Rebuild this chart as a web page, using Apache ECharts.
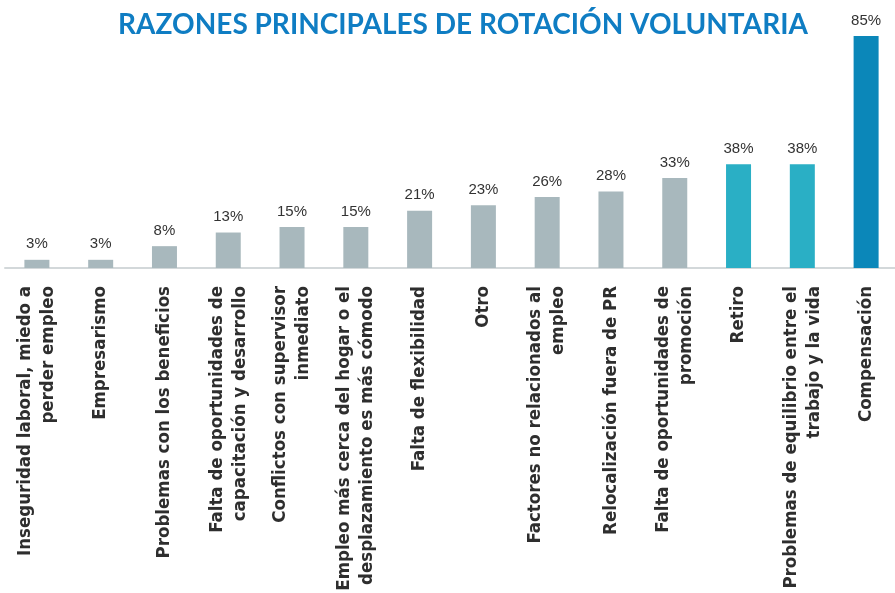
<!DOCTYPE html>
<html><head><meta charset="utf-8">
<script src="https://cdn.jsdelivr.net/npm/echarts@6/dist/echarts.min.js"></script>
<style>html,body{margin:0;padding:0;background:#fff}#c{width:895px;height:593px}</style>
</head><body><div id="c"></div>
<script>
const titleText = 'RAZONES PRINCIPALES DE ROTACIÓN VOLUNTARIA';
const categories = [
  'Inseguridad laboral, miedo a\nperder empleo',
  'Empresarismo',
  'Problemas con los beneficios',
  'Falta de oportunidades de\ncapacitación y desarrollo',
  'Conflictos con supervisor\ninmediato',
  'Empleo más cerca del hogar o el\ndesplazamiento es más cómodo',
  'Falta de flexibilidad',
  'Otro',
  'Factores no relacionados al\nempleo',
  'Relocalización fuera de PR',
  'Falta de oportunidades de\npromoción',
  'Retiro',
  'Problemas de equilibrio entre el\ntrabajo y la vida',
  'Compensación'
];
const values = [3, 3, 8, 13, 15, 15, 21, 23, 26, 28, 33, 38, 38, 85];
const tealCategories = ['Retiro', 'Problemas de equilibrio entre el\ntrabajo y la vida'];
const blueCategories = ['Compensación'];

const GRAY = '#a8b8bd', TEAL = '#2aafc5', BLUE = '#0b87b9';
const chart = echarts.init(document.getElementById('c'));
chart.setOption({
  animation: false,
  title: {
    text: titleText, left: 458, top: 6, textAlign: 'center',
    textStyle: { fontFamily: 'Lato', fontWeight: 700, fontSize: 28, color: '#0f7dc3' }
  },
  grid: { left: 5, right: -3, top: 36, bottom: 325, containLabel: false, outerBoundsMode: 'none' },
  xAxis: {
    type: 'category', data: categories,
    axisTick: { show: false },
    axisLine: { lineStyle: { color: '#d3d8da', width: 2 } },
    axisLabel: {
      interval: 0, rotate: 90, margin: 18, hideOverlap: false,
      fontFamily: '"DejaVu Sans Condensed", sans-serif',
      fontWeight: 'bold', fontSize: 18.5, lineHeight: 23, color: '#2e2e2e'
    }
  },
  yAxis: { type: 'value', min: 0, max: 85, show: false, splitLine: { show: false } },
  series: [{
    type: 'bar', barWidth: 25,
    data: values.map((v, i) => ({
      value: v,
      itemStyle: { color: blueCategories.includes(categories[i]) ? BLUE : (tealCategories.includes(categories[i]) ? TEAL : GRAY) }
    })),
    label: {
      show: true, position: 'top', distance: 8, formatter: '{c}%',
      fontFamily: '"Liberation Sans", Arial, sans-serif', fontSize: 15, color: '#333333'
    }
  }]
});
</script></body></html>
